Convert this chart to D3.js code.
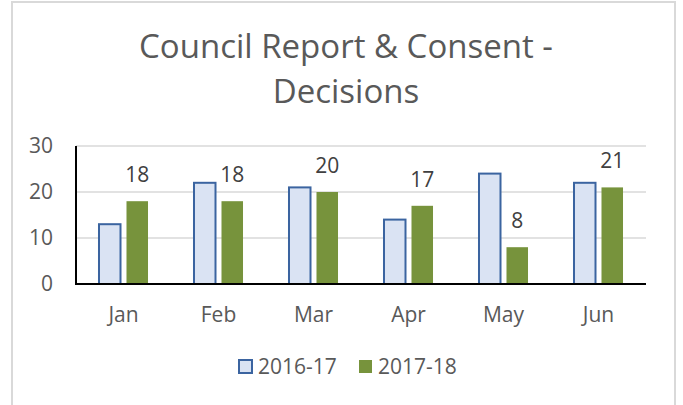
<!DOCTYPE html>
<html>
<head>
<meta charset="utf-8">
<script src="https://cdn.jsdelivr.net/npm/d3@7"></script>
<style>
  html, body { margin: 0; padding: 0; background: #fff; }
  svg { display: block; font-family: "Open Sans", sans-serif; }
</style>
</head>
<body>
<svg id="chart" width="683" height="405"></svg>
<script>
const months = ["Jan", "Feb", "Mar", "Apr", "May", "Jun"];
const seriesNames = ["2016-17", "2017-18"];
const values2016 = [13, 22, 21, 14, 24, 22];
const values2017 = [18, 18, 20, 17, 8, 21];
const yTicks = [0, 10, 20, 30];
const titleLines = ["Council Report & Consent -", "Decisions"];

const svg = d3.select("#chart");
const W = 683, H = 405;
const plot = { left: 76, right: 646, top: 146, bottom: 284 };

svg.append("rect").attr("x", 12).attr("y", 2).attr("width", 663).attr("height", H + 10)
  .attr("fill", "#fff").attr("stroke", "#d9d9d9").attr("stroke-width", 2);

// title
svg.append("g").selectAll("text").data(titleLines).join("text")
  .attr("x", 346).attr("y", (d, i) => 58 + i * 45)
  .attr("text-anchor", "middle").attr("fill", "#595959")
  .attr("font-size", 33).text(d => d);

const x = d3.scaleBand().domain(months).range([plot.left, plot.right]).paddingInner(0).paddingOuter(0);
const x1 = d3.scaleBand().domain(seriesNames).range([0, x.bandwidth()]).paddingInner(0.218).paddingOuter(0.836);
const y = d3.scaleLinear().domain([0, 30]).range([plot.bottom, plot.top]);

// grid
svg.append("g").selectAll("line").data(yTicks.filter(t => t > 0)).join("line")
  .attr("x1", plot.left).attr("x2", plot.right)
  .attr("y1", d => y(d)).attr("y2", d => y(d))
  .attr("stroke", "#d9d9d9").attr("stroke-width", 1.5);

// y labels
const yAxis = d3.axisLeft(y).tickValues(yTicks).tickSize(0).tickPadding(23);
const ya = svg.append("g").attr("transform", `translate(${plot.left},0)`).call(yAxis);
ya.select(".domain").remove();
ya.selectAll("text").attr("fill", "#595959").attr("font-size", 21).attr("font-family", "Open Sans, sans-serif");

// x labels
const xAxis = d3.axisBottom(x).tickSize(0).tickPadding(23);
const xa = svg.append("g").attr("transform", `translate(0,${plot.bottom})`).call(xAxis);
xa.select(".domain").remove();
xa.selectAll("text").attr("fill", "#595959").attr("font-size", 21).attr("font-family", "Open Sans, sans-serif");

const data = months.map((m, i) => ({ m, vals: [values2016[i], values2017[i]] }));

const groups = svg.append("g").selectAll("g").data(data).join("g")
  .attr("transform", d => `translate(${x(d.m)},0)`);

groups.append("rect")
  .attr("x", x1("2016-17")).attr("width", x1.bandwidth())
  .attr("y", d => y(d.vals[0])).attr("height", d => y(0) - y(d.vals[0]))
  .attr("fill", "#dae3f3").attr("stroke", "#3b64a0").attr("stroke-width", 2);

groups.append("rect")
  .attr("x", x1("2017-18")).attr("width", x1.bandwidth())
  .attr("y", d => y(d.vals[1])).attr("height", d => y(0) - y(d.vals[1]))
  .attr("fill", "#77933c");

groups.append("text")
  .attr("x", x1("2017-18") + x1.bandwidth() / 2)
  .attr("y", d => y(d.vals[1]) - 19)
  .attr("text-anchor", "middle").attr("fill", "#404040").attr("font-size", 21)
  .text(d => d.vals[1]);

// axis lines
svg.append("line").attr("x1", plot.left).attr("x2", plot.left).attr("y1", plot.top).attr("y2", plot.bottom + 1)
  .attr("stroke", "#000").attr("stroke-width", 2);
svg.append("line").attr("x1", plot.left - 1).attr("x2", plot.right).attr("y1", plot.bottom).attr("y2", plot.bottom)
  .attr("stroke", "#000").attr("stroke-width", 2);

// legend
const legend = svg.append("g");
const lg = [
  { name: seriesNames[0], x: 239, fill: "#dae3f3", stroke: "#3b64a0" },
  { name: seriesNames[1], x: 359, fill: "#77933c", stroke: "none" }
];
const li = legend.selectAll("g").data(lg).join("g").attr("transform", d => `translate(${d.x},0)`);
li.append("rect").attr("x", 0).attr("y", 360).attr("width", 13).attr("height", 13)
  .attr("fill", d => d.fill).attr("stroke", d => d.stroke).attr("stroke-width", 2);
li.append("text").attr("x", 19).attr("y", 374).attr("fill", "#595959").attr("font-size", 21)
  .text(d => d.name);
</script>
</body>
</html>
